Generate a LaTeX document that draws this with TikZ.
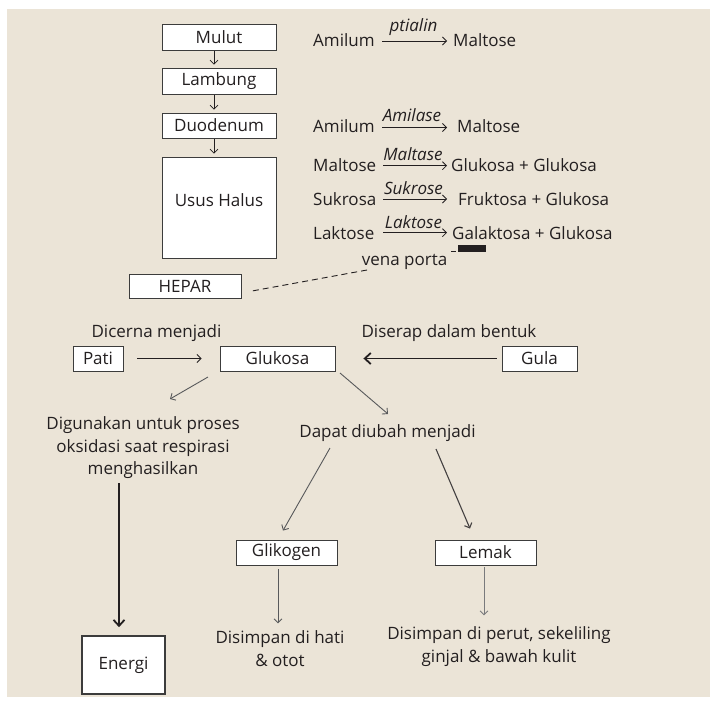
\documentclass[tikz,border=0pt]{standalone}
\usepackage{fontspec}
\setmainfont{Open Sans}
\usetikzlibrary{arrows.meta}
\definecolor{bg}{HTML}{EBE4D7}
\definecolor{ink}{HTML}{231F20}
\definecolor{gr}{HTML}{58595B}
\definecolor{bx}{HTML}{3C3C3C}
\begin{document}
\begin{tikzpicture}[x=1pt,y=-1pt,
  txt/.style={inner sep=0pt,text=ink,font=\fontsize{17}{20}\selectfont},
  enz/.style={inner sep=0pt,text=ink,font=\fontsize{17}{20}\selectfont\itshape},
  box/.style={draw=bx,fill=white,line width=0.9pt,inner sep=0pt,text=ink,font=\fontsize{17}{20}\selectfont},
  arr/.style={draw=ink,line width=0.8pt,-{Straight Barb[length=4pt,width=8pt]}},
  garr/.style={draw=gr,line width=0.9pt,-{Straight Barb[length=4pt,width=8pt]}},
  tarr/.style={draw=ink,line width=1.8pt,-{Straight Barb[length=6pt,width=11pt,line width=1.8pt]}}]
\useasboundingbox (0,0) rectangle (716,707);
\fill[bg] (7,9) rectangle (710,697);

% digestive tract
\node[box,minimum width=114pt,minimum height=26pt] (mulut) at (219,37) {Mulut};
\node[box,minimum width=114pt,minimum height=26pt] (lambung) at (219,81) {Lambung};
\node[box,minimum width=114pt,minimum height=25pt] (duo) at (219,125.5) {Duodenum};
\node[box,minimum width=114pt,minimum height=101pt] (usus) at (219,207.5) {};
\node[txt] (ususl) at (219,200) {Usus Halus};
\draw[arr,line width=0.7pt,shorten <=1pt,shorten >=3pt] ([xshift=-5pt]mulut.south) -- ([xshift=-5pt]lambung.north);
\draw[arr,line width=0.7pt,shorten <=1pt,shorten >=3pt] ([xshift=-5pt]lambung.south) -- ([xshift=-5pt]duo.north);
\draw[arr,line width=0.7pt,shorten <=1pt,shorten >=3pt] ([xshift=-5pt]duo.south) -- ([xshift=-5pt]usus.north);

% reactions
\node[txt,anchor=base west] (r1a) at (313,46.5) {Amilum};
\node[txt,anchor=base west] (r1b) at (453,46.5) {Maltose};
\coordinate (r1s) at (382,41); \coordinate (r1e) at (447,41);
\draw[arr] (r1s) -- (r1e);
\node[enz,anchor=base] (e1) at (413.5,31.5) {ptialin};

\node[txt,anchor=base west] (r2a) at (313,132) {Amilum};
\node[txt,anchor=base west] (r2b) at (457,132) {Maltose};
\coordinate (r2s) at (382,127.5); \coordinate (r2e) at (447,127.5);
\draw[arr] (r2s) -- (r2e);
\node[enz,anchor=base] (e2) at (412,121.5) {Amilase};

\node[txt,anchor=base west] (r3a) at (313,171.5) {Maltose};
\node[txt,anchor=base west] (r3b) at (451,171.5) {Glukosa + Glukosa};
\coordinate (r3s) at (383,165.7); \coordinate (r3e) at (447,165.7);
\draw[arr] (r3s) -- (r3e);
\node[enz,anchor=base] (e3) at (413,160.5) {Maltase};

\node[txt,anchor=base west] (r4a) at (313,205.5) {Sukrosa};
\node[txt,anchor=base west] (r4b) at (458,205.5) {Fruktosa + Glukosa};
\coordinate (r4s) at (383,199); \coordinate (r4e) at (447,199);
\draw[arr] (r4s) -- (r4e);
\node[enz,anchor=base] (e4) at (413.5,194.5) {Sukrose};

\node[txt,anchor=base west] (r5a) at (313,239) {Laktose};
\node[txt,anchor=base west] (r5b) at (452,239) {Galaktosa + Glukosa};
\coordinate (r5s) at (383,232.7); \coordinate (r5e) at (447,232.7);
\draw[arr] (r5s) -- (r5e);
\node[enz,anchor=base] (e5) at (413.5,228) {Laktose};

\draw[ink,line width=0.7pt] (451,251) -- (456,251);
\fill[ink] (458,245) rectangle (486,252);

% vena porta / hepar
\node[txt,anchor=base] (vena) at (404.5,265) {vena porta};
\node[box,minimum width=112pt,minimum height=24pt] (hepar) at (185,286) {HEPAR};
\coordinate (vp) at (367,270);
\coordinate (hp) at (252,291);
\draw[ink,line width=0.9pt,dash pattern=on 6pt off 4pt] (vp) -- (hp);

% glukosa row
\node[txt,anchor=base] (dicerna) at (156.5,337) {Dicerna menjadi};
\node[txt,anchor=base] (diserap) at (449,337) {Diserap dalam bentuk};
\node[box,minimum width=50pt,minimum height=25pt] (pati) at (98,358.5) {Pati};
\node[box,minimum width=115pt,minimum height=25pt] (glukosa) at (277.5,358.5) {Glukosa};
\node[box,minimum width=75pt,minimum height=25pt] (gula) at (539.5,358.5) {Gula};
\draw[arr,shorten <=14pt,shorten >=18pt] (pati.east) -- (glukosa.west);
\draw[tarr,line width=1.6pt,shorten <=5pt,shorten >=28pt] (gula.west) -- (glukosa.east);

% branches
\node[txt,anchor=base] (dig1) at (143,429.5) {Digunakan untuk proses};
\node[txt,anchor=base] (dig2) at (143,452) {oksidasi saat respirasi};
\node[txt,anchor=base] (dig3) at (143,474.5) {menghasilkan};
\node[txt,anchor=base] (dapat) at (387.5,437) {Dapat diubah menjadi};
\coordinate (g1s) at (208,377); \coordinate (g1e) at (170,399);
\draw[garr] (g1s) -- (g1e);
\coordinate (g2s) at (340,373); \coordinate (g2e) at (388,414);
\draw[garr] (g2s) -- (g2e);

\node[box,line width=1.6pt,minimum width=83pt,minimum height=58pt] (energi) at (123.5,665) {Energi};
\coordinate (ens) at (119,483);
\draw[tarr] (ens) -- ([xshift=-4.5pt,yshift=8pt]energi.north);

\node[box,minimum width=101pt,minimum height=25pt] (glik) at (286.5,552.5) {Glikogen};
\node[box,minimum width=101pt,minimum height=25pt] (lemak) at (485.5,552.5) {Lemak};
\coordinate (d1s) at (330,448); \coordinate (d2s) at (436,449);
\draw[garr] (d1s) -- ([xshift=-3.5pt,yshift=9pt]glik.north);
\draw[garr,draw=ink!85,line width=1.1pt] (d2s) -- ([xshift=-15.5pt,yshift=11pt]lemak.north);

\node[txt,anchor=base] (sim1) at (280,643) {Disimpan di hati};
\node[txt,anchor=base] (sim2) at (280,666) {\& otot};
\node[txt,anchor=base] (sim3) at (499,639) {Disimpan di perut, sekeliling};
\node[txt,anchor=base] (sim4) at (499,662) {ginjal \& bawah kulit};
\draw[garr,shorten <=4pt] ([xshift=-8.5pt]glik.south) -- ([xshift=-8.5pt,yshift=-58pt]glik.south);
\draw[garr,draw=gr!80,shorten <=2pt] ([xshift=-1.5pt]lemak.south) -- ([xshift=-1.5pt,yshift=-50pt]lemak.south);
\end{tikzpicture}
\end{document}
